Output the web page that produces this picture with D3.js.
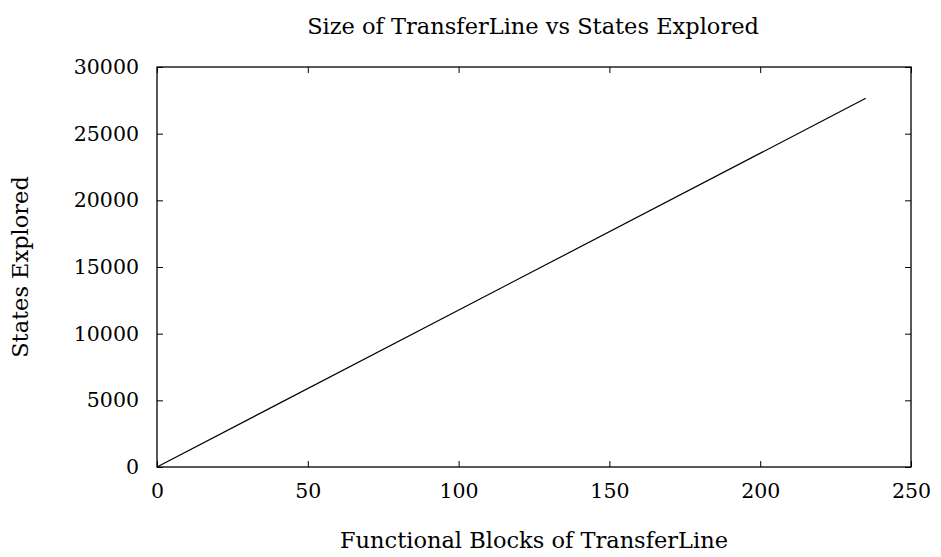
<!DOCTYPE html>
<html>
<head>
<meta charset="utf-8">
<script src="https://cdn.jsdelivr.net/npm/d3@7"></script>
<style>
  body { margin: 0; background: #fff; }
  text { font-family: "DejaVu Serif", serif; fill: #000; }
</style>
</head>
<body>
<svg id="chart" width="941" height="557"></svg>
<script>
// data
var blocks = [0, 235];
var states = [0, 27650];
var xTicks = [0, 50, 100, 150, 200, 250];
var yTicks = [0, 5000, 10000, 15000, 20000, 25000, 30000];

var svg = d3.select("#chart");
var mLeft = 157, mRight = 911, mTop = 67, mBottom = 467;
var fs = 20.5;      // tick labels
var labelFs = 22.5; // title + axis labels
var font = "DejaVu Serif, serif";

var x = d3.scaleLinear().domain([0, 250]).range([mLeft, mRight]);
var y = d3.scaleLinear().domain([0, 30000]).range([mBottom, mTop]);

// ticks point inward, on all four sides
var xAxisB = d3.axisBottom(x).tickValues(xTicks).tickSizeInner(-6).tickSizeOuter(0).tickPadding(16);
var xAxisT = d3.axisTop(x).tickValues(xTicks).tickSizeInner(-6).tickSizeOuter(0).tickFormat("");
var yAxisL = d3.axisLeft(y).tickValues(yTicks).tickSizeInner(-6).tickSizeOuter(0).tickPadding(18).tickFormat(d3.format("d"));
var yAxisR = d3.axisRight(y).tickValues(yTicks).tickSizeInner(-6).tickSizeOuter(0).tickFormat("");

function styleAxis(g) {
  g.select(".domain").remove();
  g.selectAll("line").attr("stroke", "#000").attr("stroke-width", 1);
  g.selectAll("text").style("font-family", font).style("font-size", fs + "px").attr("fill", "#000");
}

svg.append("g").attr("transform", "translate(0," + mBottom + ")").call(xAxisB).call(styleAxis);
svg.append("g").attr("transform", "translate(0," + mTop + ")").call(xAxisT).call(styleAxis);
svg.append("g").attr("transform", "translate(" + mLeft + ",0)").call(yAxisL).call(styleAxis);
svg.append("g").attr("transform", "translate(" + mRight + ",0)").call(yAxisR).call(styleAxis);

// frame
svg.append("rect")
  .attr("x", mLeft).attr("y", mTop)
  .attr("width", mRight - mLeft).attr("height", mBottom - mTop)
  .attr("fill", "none").attr("stroke", "#000").attr("stroke-width", 1.3);

// the line
var pts = blocks.map(function(b, i) { return [b, states[i]]; });
svg.append("path")
  .datum(pts)
  .attr("fill", "none")
  .attr("stroke", "#000")
  .attr("stroke-width", 1.2)
  .attr("d", d3.line().x(function(d) { return x(d[0]); }).y(function(d) { return y(d[1]); }));

// labels
svg.append("text").attr("x", 533).attr("y", 34)
  .attr("text-anchor", "middle").style("font-size", labelFs + "px")
  .text("Size of TransferLine vs States Explored");
svg.append("text").attr("x", 534).attr("y", 548)
  .attr("text-anchor", "middle").style("font-size", labelFs + "px")
  .text("Functional Blocks of TransferLine");
svg.append("text")
  .attr("transform", "translate(28," + ((mTop + mBottom) / 2) + ") rotate(-90)")
  .attr("text-anchor", "middle").style("font-size", labelFs + "px")
  .text("States Explored");
</script>
</body>
</html>
